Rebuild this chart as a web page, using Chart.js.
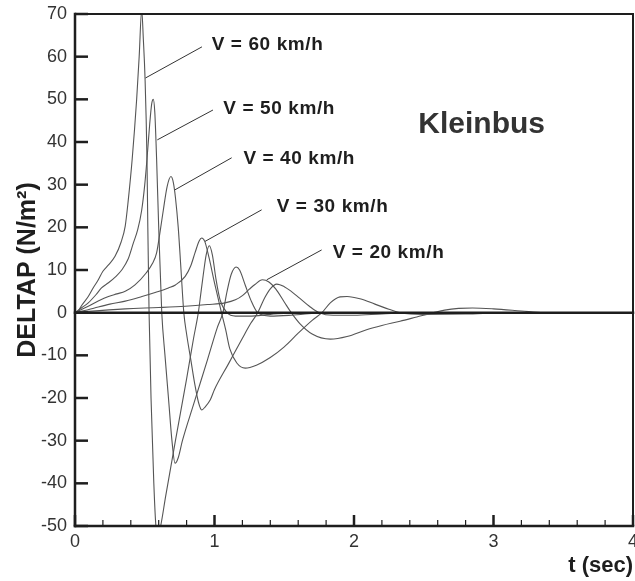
<!DOCTYPE html>
<html>
<head>
<meta charset="utf-8">
<script src="https://cdn.jsdelivr.net/npm/chart.js@4.4.1/dist/chart.umd.min.js"></script>
<style>
  html, body { margin: 0; padding: 0; background: #fff; }
  #wrap { width: 635px; height: 581px; position: relative; }
</style>
</head>
<body>
<div id="wrap"><canvas id="chart"></canvas></div>
<script>
// --- Data (t in sec, DELTAP in N/m2) ---
const t60 = [0, 0.02, 0.05, 0.095, 0.13, 0.167, 0.2, 0.24, 0.287, 0.33, 0.36, 0.38, 0.41, 0.442, 0.46, 0.478, 0.49, 0.502, 0.516, 0.522, 0.531, 0.545, 0.565, 0.58, 0.597, 0.614, 0.65, 0.72, 0.8, 0.85, 0.884, 0.9, 0.92, 0.94, 0.963, 0.985, 1.01, 1.04, 1.09, 1.15, 1.25, 1.4, 1.6, 2.0, 4.0];
const p60 = [0, 0.3, 1.8, 3.8, 5.8, 7.7, 9.7, 11.2, 13.2, 16.5, 20.3, 25.8, 36, 50, 60, 71, 64, 55, 36, 20, 0, -20, -40, -50, -52, -50, -43, -30, -15.5, -6, 0, 4, 9, 13.5, 15.7, 13.5, 8, 3, 0, -0.8, -0.8, -0.4, 0, 0, 0];

const t50 = [0, 0.05, 0.095, 0.15, 0.19, 0.24, 0.29, 0.335, 0.38, 0.418, 0.45, 0.478, 0.5, 0.516, 0.535, 0.55, 0.561, 0.572, 0.585, 0.6, 0.622, 0.645, 0.67, 0.695, 0.717, 0.74, 0.77, 0.85, 0.95, 1.02, 1.06, 1.09, 1.12, 1.155, 1.18, 1.22, 1.26, 1.31, 1.4, 1.55, 1.8, 4.0];
const p50 = [0, 1.2, 2.3, 4.2, 5.8, 7, 8.4, 10, 12.5, 16.3, 19.5, 24, 30, 36, 44, 49, 50, 47, 36, 20, 0, -10, -20, -30, -35.3, -34, -30, -21.5, -11, -3.5, 0, 5, 9, 10.7, 10, 6.5, 3, 0, -0.8, -0.6, 0, 0];

const t40 = [0, 0.05, 0.095, 0.17, 0.24, 0.3, 0.36, 0.43, 0.51, 0.555, 0.585, 0.61, 0.633, 0.66, 0.688, 0.705, 0.72, 0.74, 0.76, 0.78, 0.8, 0.83, 0.86, 0.885, 0.908, 0.935, 0.97, 1.0, 1.1, 1.2, 1.26, 1.31, 1.36, 1.4, 1.446, 1.5, 1.55, 1.61, 1.68, 1.75, 1.85, 2.0, 2.2, 2.5, 4.0];
const p40 = [0, 0.8, 1.5, 2.8, 3.8, 4.4, 5, 6.5, 9.3, 11.5, 14, 19, 24, 29.5, 31.9, 30.5, 27, 20, 10, 0, -5, -11, -17, -21, -22.8, -22, -20.4, -18, -12, -6, -2.5, 0, 3.5, 5.6, 6.7, 6.1, 5, 3.4, 1.5, 0, -0.6, -0.6, -0.3, 0, 0];

const t30 = [0, 0.07, 0.14, 0.25, 0.36, 0.48, 0.58, 0.67, 0.72, 0.79, 0.83, 0.86, 0.89, 0.908, 0.93, 0.96, 1.0, 1.05, 1.08, 1.11, 1.16, 1.22, 1.3, 1.4, 1.5, 1.6, 1.7, 1.77, 1.83, 1.9, 1.95, 2.05, 2.15, 2.25, 2.33, 2.5, 2.8, 3.1, 4.0];
const p30 = [0, 0.5, 1.1, 2, 2.7, 3.8, 4.8, 5.8, 6.5, 8.5, 11, 14, 16.8, 17.5, 16.7, 13, 7, 0, -4, -8.5, -11.8, -13, -12.3, -10.5, -8, -4.8, -1.8, 0, 2.3, 3.7, 3.8, 3.2, 2, 0.8, 0, -0.4, -0.3, 0, 0];

const t20 = [0, 0.1, 0.36, 0.6, 0.79, 0.95, 1.075, 1.15, 1.2, 1.25, 1.29, 1.343, 1.39, 1.44, 1.5, 1.55, 1.61, 1.7, 1.83, 1.95, 2.09, 2.2, 2.33, 2.45, 2.57, 2.65, 2.75, 2.85, 3.0, 3.2, 3.36, 3.6, 4.0];
const p20 = [0, 0.3, 0.9, 1.2, 1.5, 1.9, 2.3, 3, 4, 5.5, 6.6, 7.7, 7.2, 5.5, 2.5, 0, -2.5, -5, -6.2, -5.6, -4, -3, -2, -1, 0, 0.6, 1.0, 1.1, 0.9, 0.4, 0, 0, 0];

const speeds = ['V = 60 km/h', 'V = 50 km/h', 'V = 40 km/h', 'V = 30 km/h', 'V = 20 km/h'];
const xTicks = [0, 1, 2, 3, 4];
const yTicks = [-50, -40, -30, -20, -10, 0, 10, 20, 30, 40, 50, 60, 70];

// --- Look ---
const FONT = "'Liberation Sans', Arial, Helvetica, sans-serif";
const INK = '#1e1e1e';
const CURVE = '#555';

// label text position (left edge, middle) and leader line, in data units
const notes = [
  { text: speeds[0], at: [0.98, 62.7], from: [0.91, 62.3], to: [0.505, 55] },
  { text: speeds[1], at: [1.063, 47.9], from: [0.989, 47.5], to: [0.59, 40.5] },
  { text: speeds[2], at: [1.207, 36.0], from: [1.123, 36.3], to: [0.717, 28.8] },
  { text: speeds[3], at: [1.446, 24.8], from: [1.338, 24.1], to: [0.932, 16.7] },
  { text: speeds[4], at: [1.847, 14.1], from: [1.768, 14.7], to: [1.374, 7.7] }
];

const toPoints = (ts, ps) => ts.map((t, i) => ({ x: t, y: ps[i] }));
const series = [[t60, p60], [t50, p50], [t40, p40], [t30, p30], [t20, p20]];

// frame, heavy zero line and inward tick marks
const framePlugin = {
  id: 'frame',
  afterDatasetsDraw(chart) {
    const { ctx, chartArea: a, scales: { x, y } } = chart;
    const seg = (x1, y1, x2, y2) => { ctx.beginPath(); ctx.moveTo(x1, y1); ctx.lineTo(x2, y2); ctx.stroke(); };
    ctx.save();
    ctx.strokeStyle = INK;
    ctx.lineCap = 'square';

    ctx.lineWidth = 2.5;
    const y0 = y.getPixelForValue(0);
    seg(a.left, y0, a.right, y0);
    seg(a.left, a.top, a.left, a.bottom);
    seg(a.left, a.bottom, a.right, a.bottom);
    ctx.lineWidth = 2;
    seg(a.left, a.top, a.right, a.top);
    seg(a.right, a.top, a.right, a.bottom);

    // y major ticks
    ctx.lineCap = 'butt';
    ctx.lineWidth = 2.5;
    y.ticks.forEach(tk => {
      const py = y.getPixelForValue(tk.value);
      seg(a.left, py, a.left + 13, py);
    });
    // x major + minor ticks
    x.ticks.forEach(tk => {
      const px = x.getPixelForValue(tk.value);
      seg(px, a.bottom, px, a.bottom - 11);
    });
    ctx.lineWidth = 1.2;
    for (let v = x.min; v < x.max; v += 1) {
      for (let k = 1; k < 5; k++) {
        const px = x.getPixelForValue(v + k * 0.2);
        seg(px, a.bottom, px, a.bottom - 6);
      }
    }
    ctx.restore();
  }
};

// speed labels with leader lines + "Kleinbus"
const notePlugin = {
  id: 'notes',
  afterDraw(chart) {
    const { ctx, scales: { x, y } } = chart;
    ctx.save();
    ctx.strokeStyle = '#333';
    ctx.lineWidth = 1;
    notes.forEach(n => {
      ctx.beginPath();
      ctx.moveTo(x.getPixelForValue(n.from[0]), y.getPixelForValue(n.from[1]));
      ctx.lineTo(x.getPixelForValue(n.to[0]), y.getPixelForValue(n.to[1]));
      ctx.stroke();
    });
    ctx.fillStyle = INK;
    ctx.textAlign = 'left';
    ctx.textBaseline = 'middle';
    ctx.letterSpacing = '0.6px';
    ctx.font = 'bold 19px ' + FONT;
    notes.forEach(n => {
      ctx.fillText(n.text, x.getPixelForValue(n.at[0]), y.getPixelForValue(n.at[1]));
    });
    ctx.letterSpacing = '0px';
    ctx.fillStyle = '#333';
    ctx.font = 'bold 30px ' + FONT;
    ctx.fillText('Kleinbus', x.getPixelForValue(2.461), y.getPixelForValue(44));
    ctx.restore();
  }
};

Chart.defaults.font.family = FONT;
Chart.defaults.color = INK;

new Chart(document.getElementById('chart'), {
  type: 'line',
  data: {
    datasets: series.map((s, i) => ({
      label: speeds[i],
      data: toPoints(s[0], s[1]),
      borderColor: CURVE,
      borderWidth: 1.1,
      pointRadius: 0,
      fill: false,
      cubicInterpolationMode: 'monotone'
    }))
  },
  options: {
    responsive: true,
    maintainAspectRatio: false,
    animation: false,
    events: [],
    layout: { padding: { top: 14, right: 2, left: 0, bottom: 0 } },
    plugins: { legend: { display: false }, tooltip: { enabled: false } },
    scales: {
      x: {
        type: 'linear',
        min: 0, max: 4,
        afterBuildTicks: s => { s.ticks = xTicks.map(v => ({ value: v })); },
        afterFit: s => { s.height = 55; s.paddingLeft = 0; s.paddingRight = 0; },
        grid: { display: false, drawTicks: false },
        border: { display: false },
        ticks: { padding: 5, maxRotation: 0, font: { size: 18 }, color: '#333' },
        title: {
          display: true, text: 't (sec)', align: 'end',
          font: { size: 22, weight: 'bold' }, padding: { top: 0, bottom: 2 }
        }
      },
      y: {
        min: -50, max: 70,
        afterBuildTicks: s => { s.ticks = yTicks.map(v => ({ value: v })); },
        afterFit: s => { s.width = 75; s.paddingTop = 0; s.paddingBottom = 0; },
        grid: { display: false, drawTicks: false },
        border: { display: false },
        ticks: { padding: 8, font: { size: 18 }, color: '#333' },
        title: {
          display: true, text: 'DELTAP (N/m²)',
          font: { size: 25, weight: 'bold' }, padding: { top: 13, bottom: 0 }
        }
      }
    }
  },
  plugins: [framePlugin, notePlugin]
});
</script>
</body>
</html>
